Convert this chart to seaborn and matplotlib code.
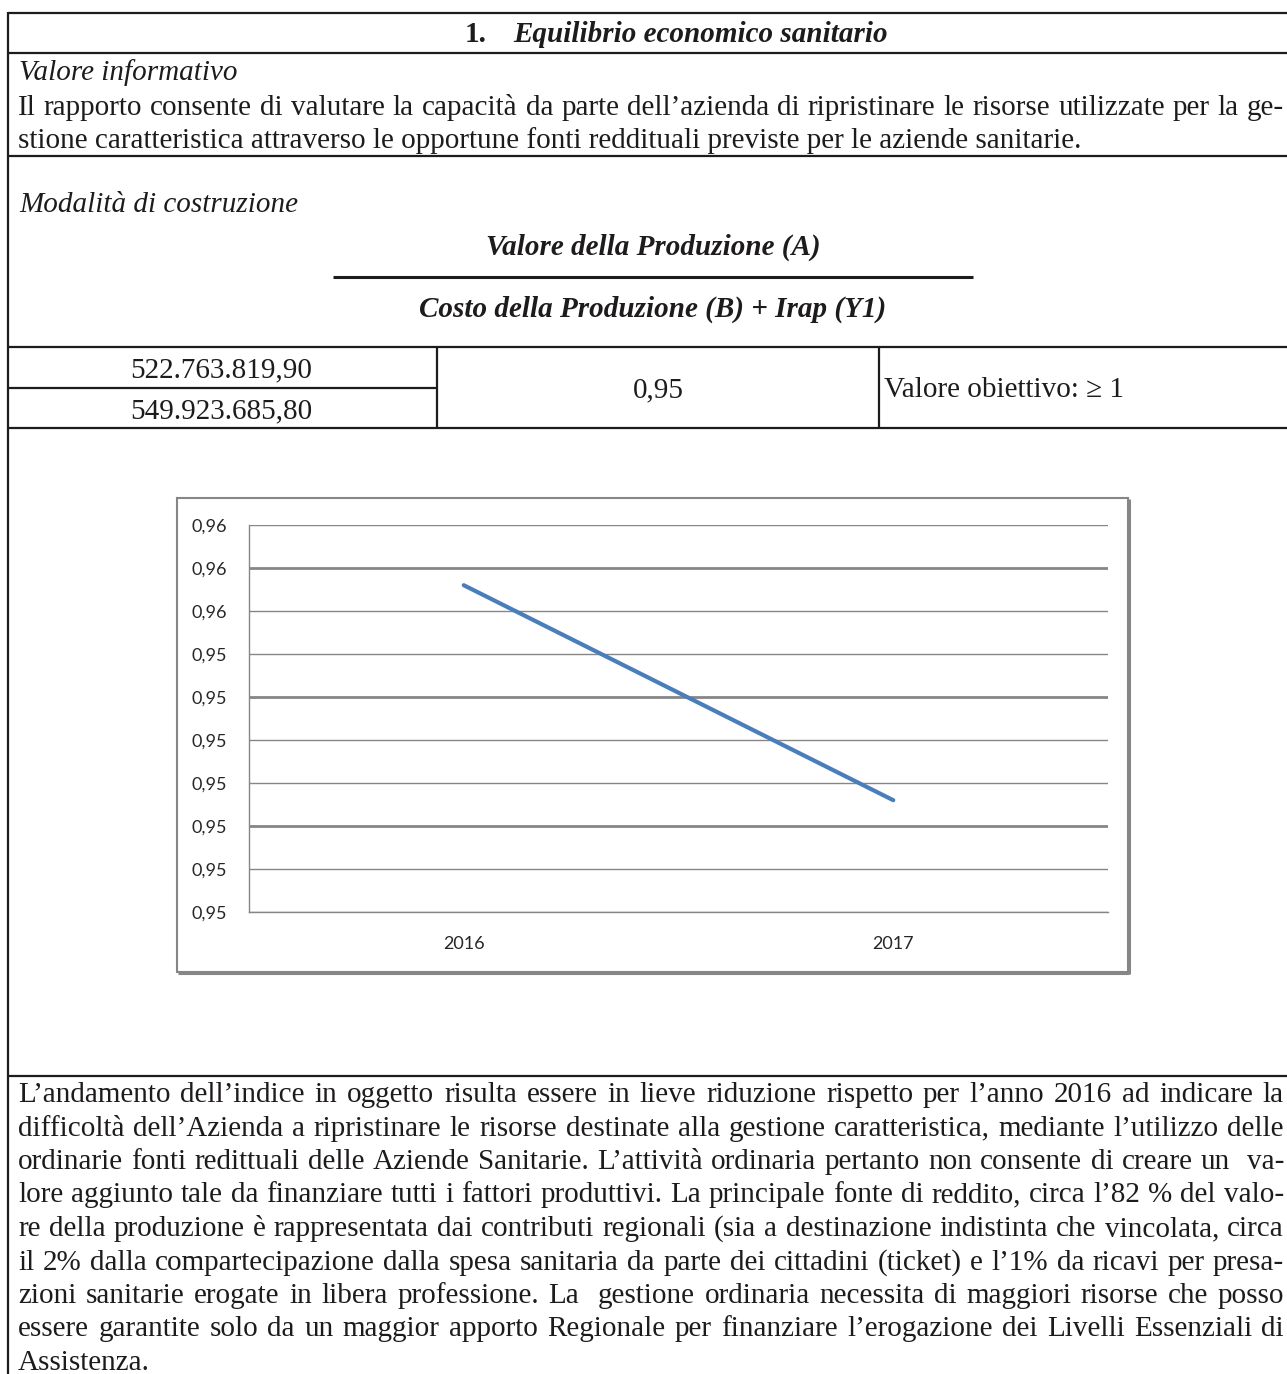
import matplotlib
matplotlib.use("Agg")
import matplotlib.pyplot as plt
import matplotlib.transforms as mtransforms
from matplotlib.patches import Rectangle
from matplotlib.lines import Line2D
from decimal import Decimal, ROUND_HALF_UP
import numpy as np
import pandas as pd
import seaborn as sns

# ---- data -------------------------------------------------------------
anni = ["2016", "2017"]
indice = [0.9556, 0.9506]
y_ticks = [0.948, 0.949, 0.950, 0.951, 0.952, 0.953, 0.954, 0.955, 0.956, 0.957]

valore_produzione = "522.763.819,90"
costo_produzione = "549.923.685,80"
rapporto = "0,95"
obiettivo = "Valore obiettivo: \u2265 1"

titolo_num = "1."
titolo = "Equilibrio economico sanitario"
numeratore = "Valore della Produzione (A)"
denominatore = "Costo della Produzione (B) + Irap (Y1)"

righe_info = [
    "Il rapporto consente di valutare la capacità da parte dell\u2019azienda di ripristinare le risorse utilizzate per la ge-",
    "stione caratteristica attraverso le opportune fonti reddituali previste per le aziende sanitarie.",
]
righe_commento = [
    "L\u2019andamento dell\u2019indice in oggetto risulta essere in lieve riduzione rispetto per l\u2019anno 2016 ad indicare la",
    "difficoltà dell\u2019Azienda a ripristinare le risorse destinate alla gestione caratteristica, mediante l\u2019utilizzo delle",
    "ordinarie fonti redittuali delle Aziende Sanitarie. L\u2019attività ordinaria pertanto non consente di creare un  va-",
    "lore aggiunto tale da finanziare tutti i fattori produttivi. La principale fonte di reddito, circa l\u201982 % del valo-",
    "re della produzione è rappresentata dai contributi regionali (sia a destinazione indistinta che vincolata, circa",
    "il 2% dalla compartecipazione dalla spesa sanitaria da parte dei cittadini (ticket) e l\u20191% da ricavi per presa-",
    "zioni sanitarie erogate in libera professione. La  gestione ordinaria necessita di maggiori risorse che posso",
    "essere garantite solo da un maggior apporto Regionale per finanziare l\u2019erogazione dei Livelli Essenziali di",
    "Assistenza.",
]

# ---- figure -----------------------------------------------------------
sns.set_style("white")
W, H = 1287, 1374
fig = plt.figure(figsize=(W / 100, H / 100), dpi=100)
fig.patch.set_facecolor("white")

# pixel coordinates with origin at top-left
px = mtransforms.Affine2D().scale(1 / W, -1 / H).translate(0, 1) + fig.transFigure

SERIF = "Liberation Serif"
TXT = "#1e1b1c"
FS = 21
renderer = fig.canvas.get_renderer()


def hline(y, x0, x1, lw=1.6, color=TXT):
    fig.add_artist(Line2D([x0, x1], [y, y], transform=px, lw=lw, color=color,
                          solid_capstyle="butt"))


def vline(x, y0, y1, lw=1.6, color=TXT):
    fig.add_artist(Line2D([x, x], [y0, y1], transform=px, lw=lw, color=color,
                          solid_capstyle="butt"))


def text(x, y, s, ha="left", style="normal", weight="normal", size=FS):
    return fig.text(x, y, s, transform=px, ha=ha, va="baseline", family=SERIF,
                    style=style, weight=weight, fontsize=size, color=TXT)


def justified(y, line, x0, x1, size=FS):
    words = line.split(" ")
    arts, widths = [], []
    for w in words:
        if w:
            a = text(0, y, w, size=size)
            arts.append(a)
            widths.append(a.get_window_extent(renderer).width)
        else:
            arts.append(None)
            widths.append(0.0)
    gap = (x1 - x0 - sum(widths)) / max(len(words) - 1, 1)
    x = x0
    for a, wd in zip(arts, widths):
        if a is not None:
            a.set_position((x, y))
        x += wd + gap


# ---- table frame ------------------------------------------------------
LX, RX = 7.5, 1290
for y in (13, 53, 156, 347, 428, 1076):
    hline(y, LX, RX)
hline(388, LX, 437)
vline(LX, 12, H + 2)
vline(437, 347, 428)
vline(879, 347, 428)

# title
text(465, 42, titolo_num, weight="bold")
text(513, 42, titolo, style="italic", weight="bold")

# informative section
text(19, 80, "Valore informativo", style="italic")
justified(115, righe_info[0], 18, 1284)
text(18, 148, righe_info[1])

# construction section
text(19, 212, "Modalità di costruzione", style="italic")
text(653, 255, numeratore, ha="center", style="italic", weight="bold")
hline(277, 333, 973, lw=2.2)
text(653, 317, denominatore, ha="center", style="italic", weight="bold")

# values row
text(221, 377, valore_produzione, ha="center")
text(221, 418, costo_produzione, ha="center")
text(658, 397, rapporto, ha="center")
text(884, 397, obiettivo)

# comment paragraph
for i, riga in enumerate(righe_commento):
    y = 1102 + i * 33.5
    if i < len(righe_commento) - 1:
        justified(y, riga, 18, 1284)
    else:
        text(18, y, riga)

# ---- chart box --------------------------------------------------------
GRID = "#868686"
fig.add_artist(Rectangle((177, 498), 1128 - 177, 972 - 498, transform=px,
                         fill=False, lw=1.5, edgecolor=GRID))
hline(973, 178, 1129, lw=2.2, color=GRID)
vline(1129, 499, 974, lw=2.2, color=GRID)

# ---- line chart -------------------------------------------------------
ax_l, ax_r, ax_t, ax_b = 249, 1108, 525, 912
ax = fig.add_axes([ax_l / W, 1 - ax_b / H, (ax_r - ax_l) / W, (ax_b - ax_t) / H])
ax.set_facecolor("none")

df = pd.DataFrame({"anno": anni, "indice": indice})
sns.lineplot(data=df, x="anno", y="indice", ax=ax, color="#4a7ebb", lw=3.0,
             sort=False, zorder=3)

ax.set_xlim(-0.5, 1.5)
ax.set_ylim(y_ticks[0], y_ticks[-1])


def etichetta(v):
    d = Decimal(str(round(v, 4))).quantize(Decimal("0.01"), rounding=ROUND_HALF_UP)
    return str(d).replace(".", ",")


ax.set_yticks(y_ticks)
ax.set_yticklabels([etichetta(v) for v in y_ticks])
ax.set_xticks([0, 1])
ax.set_xticklabels(anni)
ax.set_xticks([-0.5, 0.5, 1.5], minor=True)

ax.set_xlabel("")
ax.set_ylabel("")

ax.yaxis.grid(True, color=GRID, lw=1.0)
ax.xaxis.grid(False)
for i, gl in enumerate(ax.get_ygridlines()):
    if i in (2, 5, 8):
        gl.set_linewidth(2.0)

for side in ("top", "right"):
    ax.spines[side].set_visible(False)
for side in ("left", "bottom"):
    ax.spines[side].set_color(GRID)
    ax.spines[side].set_linewidth(1.0)

ax.tick_params(axis="y", length=5, width=1.0, color=GRID, pad=10.5,
               labelsize=13, labelcolor="#262626")
ax.tick_params(axis="x", which="major", length=0, pad=17,
               labelsize=13, labelcolor="#262626")
ax.tick_params(axis="x", which="minor", length=5.5, width=1.0, color=GRID)
for lab in ax.get_xticklabels() + ax.get_yticklabels():
    lab.set_family(["Lato", "DejaVu Sans"])

fig.savefig("out.png", dpi=100, facecolor="white")
